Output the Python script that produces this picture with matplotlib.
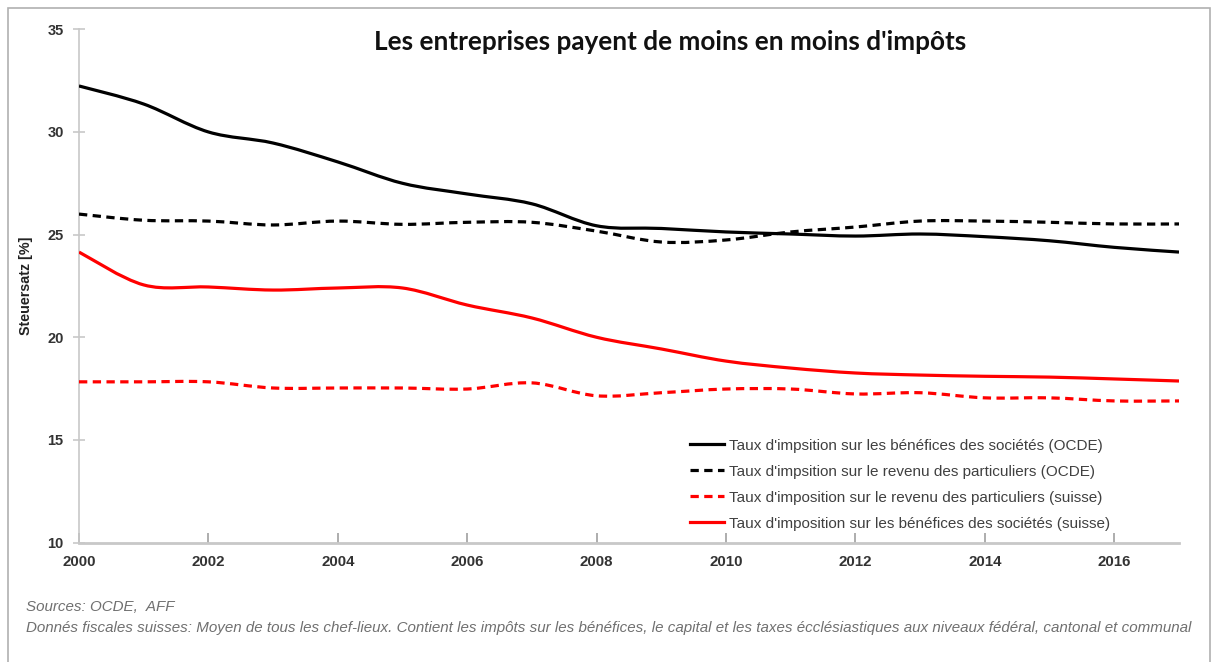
import matplotlib
matplotlib.use("Agg")
import matplotlib.pyplot as plt
from matplotlib.path import Path
from matplotlib.patches import PathPatch, Rectangle
from matplotlib.lines import Line2D
import numpy as np

years = list(range(2000, 2018))
corp_oecd = [32.24, 31.36, 30.0, 29.46, 28.54, 27.5, 26.98, 26.5, 25.43, 25.3,
             25.13, 25.03, 24.93, 25.03, 24.9, 24.7, 24.38, 24.15]
pers_oecd = [26.0, 25.7, 25.66, 25.47, 25.66, 25.5, 25.6, 25.6, 25.17, 24.64,
             24.74, 25.13, 25.37, 25.66, 25.66, 25.6, 25.52, 25.52]
pers_ch = [17.83, 17.83, 17.83, 17.53, 17.53, 17.53, 17.48, 17.78, 17.15, 17.3,
           17.48, 17.48, 17.24, 17.3, 17.05, 17.05, 16.9, 16.9]
corp_ch = [24.15, 22.55, 22.45, 22.3, 22.4, 22.4, 21.57, 20.94, 20.0, 19.43,
           18.84, 18.5, 18.26, 18.16, 18.1, 18.06, 17.97, 17.87]

labels = [
    "Taux d'impsition sur les bénéfices des sociétés (OCDE)",
    "Taux d'impsition sur le revenu des particuliers (OCDE)",
    "Taux d'imposition sur le revenu des particuliers (suisse)",
    "Taux d'imposition sur les bénéfices des sociétés (suisse)",
]
series = [corp_oecd, pers_oecd, pers_ch, corp_ch]
colors = ["black", "black", "#ff0000", "#ff0000"]
dashed = [False, True, True, False]

title = "Les entreprises payent de moins en moins d'impôts"
ylabel = "Steuersatz [%]"
note1 = "Sources: OCDE,  AFF"
note2 = ("Donnés fiscales suisses: Moyen de tous les chef-lieux. Contient les impôts sur les bénéfices, "
         "le capital et les taxes écclésiastiques aux niveaux fédéral, cantonal et communal")

fig = plt.figure(figsize=(12.14, 6.62), dpi=100)
fig.patches.append(Rectangle((0.007, -0.01), 0.99, 0.998, transform=fig.transFigure,
                             fill=False, edgecolor="#b0b0b0", lw=1.2))
ax = fig.add_axes([79 / 1214, 1 - 542.6 / 662, 1100 / 1214, 513.3 / 662])


def smooth_path(xs, ys):
    xs = np.asarray(xs, float)
    ys = np.asarray(ys, float)
    P = np.column_stack([xs, ys])
    n = len(P)
    verts = [P[0]]
    codes = [Path.MOVETO]
    for i in range(n - 1):
        p0 = P[i - 1] if i > 0 else P[i]
        p1 = P[i]
        p2 = P[i + 1]
        p3 = P[i + 2] if i + 2 < n else P[i + 1]
        c1 = p1 + (p2 - p0) / 6.0
        c2 = p2 - (p3 - p1) / 6.0
        verts += [c1, c2, p2]
        codes += [Path.CURVE4] * 3
    return Path(verts, codes)


handles = []
for vals, col, dsh, lab in zip(series, colors, dashed, labels):
    ls = (0, (2.6, 1.7)) if dsh else "-"
    patch = PathPatch(smooth_path(years, vals), fill=False, edgecolor=col, lw=2.3,
                      linestyle=ls, capstyle="butt", joinstyle="round", zorder=3)
    ax.add_patch(patch)
    handles.append(Line2D([], [], color=col, lw=2.3, linestyle=ls))

ax.set_xlim(2000, 2017)
ax.set_ylim(10, 35)
ax.set_xticks(range(2000, 2017, 2))
ax.set_yticks(range(10, 36, 5))

for s in ["top", "right"]:
    ax.spines[s].set_visible(False)
ax.spines["left"].set_color("#c8c8c8")
ax.spines["left"].set_linewidth(1.2)
ax.spines["bottom"].set_color("#c8c8c8")
ax.spines["bottom"].set_linewidth(2.0)

ax.tick_params(axis="y", direction="inout", length=8, width=1.2, color="#c8c8c8",
               labelsize=10.5, labelcolor="#333333", pad=7)
ax.tick_params(axis="x", direction="in", length=7, width=1.2, color="#a0a0a0",
               labelsize=10.8, labelcolor="#333333", pad=9)
for t in ax.get_xticklabels() + ax.get_yticklabels():
    t.set_fontweight("bold")
    t.set_fontfamily("Liberation Sans")

ax.set_ylabel(ylabel, fontsize=10.3, fontweight="bold", family="Liberation Sans",
              color="#222222", labelpad=10)

fig.text(670 / 1214, 1 - 42 / 662, title, ha="center", va="center", fontsize=18.8,
         family="Lato", fontweight="bold", color="#111111")

leg = ax.legend(handles, labels, loc="upper left", bbox_to_anchor=(0.543, 0.229),
                frameon=False, handlelength=2.25, handletextpad=0.3, labelspacing=0.78,
                prop={"family": "Liberation Sans", "size": 11})
for t in leg.get_texts():
    t.set_color("#404040")

fig.text(26 / 1214, 1 - 607 / 662, note1, ha="left", va="center", fontsize=10.9,
         style="italic", family="Liberation Sans", color="#707070")
fig.text(26 / 1214, 1 - 628 / 662, note2, ha="left", va="center", fontsize=10.9,
         style="italic", family="Liberation Sans", color="#707070")

fig.savefig("out.png", dpi=100)
